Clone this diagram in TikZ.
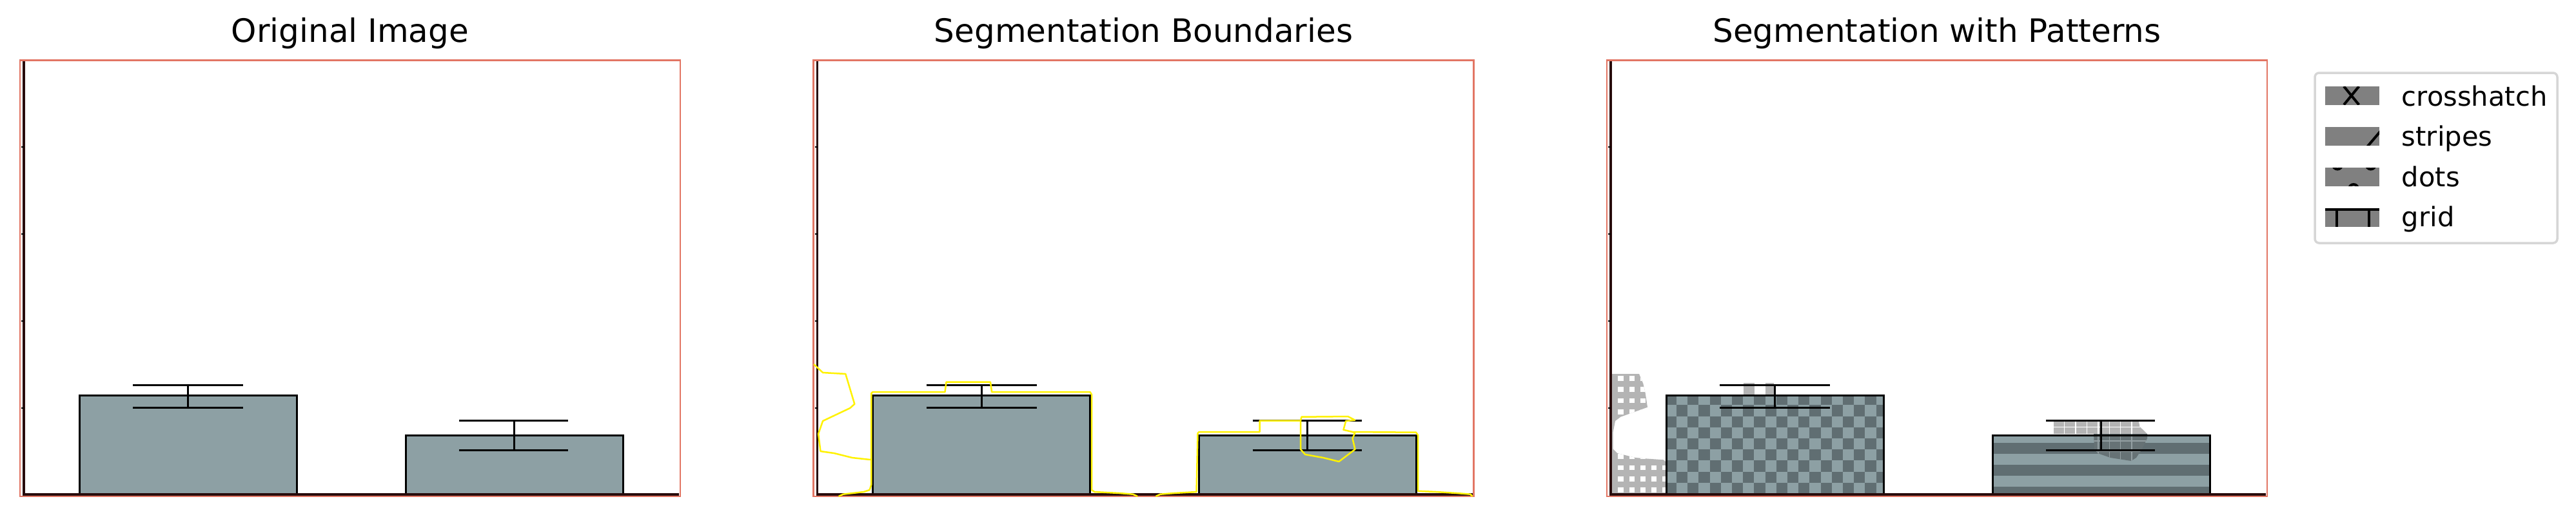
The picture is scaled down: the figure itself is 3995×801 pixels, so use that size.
\documentclass[tikz,border=0pt]{standalone}
\usepackage{fontspec}
\setmainfont{DejaVu Sans}
\definecolor{barfill}{RGB}{141,160,164}
\definecolor{bardark}{RGB}{96,110,114}
\definecolor{framesalmon}{RGB}{226,118,100}
\definecolor{axisdark}{RGB}{40,12,12}
\definecolor{seggray}{RGB}{180,180,180}
\definecolor{segdark}{RGB}{102,114,117}
\definecolor{seglines}{RGB}{148,160,163}
\definecolor{legedge}{RGB}{214,214,214}
\definecolor{handlegray}{RGB}{128,128,128}
\tikzset{
  barbox/.style={draw=black, line width=0.72pt},
  errbar/.style={draw=black, line width=0.72pt},
  framebox/.style={draw=framesalmon, line width=0.6pt},
  axisline/.style={draw=axisdark, line width=0.84pt},
  tickline/.style={draw=black, line width=0.6pt},
  segline/.style={draw=yellow, line width=0.6pt, line join=round},
  titletext/.style={font=\fontsize{12}{14}\selectfont, anchor=base, inner sep=0pt},
  legtext/.style={font=\fontsize{10}{12}\selectfont, anchor=base west, inner sep=0pt},
  hatchline/.style={draw=black, line width=0.96pt},
  legframe/.style={draw=legedge, fill=white, line width=0.84pt, rounded corners=1.6pt},
}
\newcommand{\chartfill}{%
  \fill[barfill] (123,613) rectangle (460,767);
  \fill[barfill] (629,675) rectangle (966,767);
}
\newcommand{\chartlines}{%
  \draw[barbox] (123,767) -- (123,613) -- (460,613) -- (460,767);
  \draw[barbox] (629,767) -- (629,675) -- (966,675) -- (966,767);
  \draw[errbar] (206,597) -- (377,597) (206,632) -- (377,632) (291.5,597) -- (291.5,632);
  \draw[errbar] (712,652) -- (881,652) (712,698) -- (881,698) (797,652) -- (797,698);
  \draw[framebox] (31,93.5) rectangle (1055,770);
  \draw[axisline] (37,95) -- (37,767) -- (1053,767);
  \draw[tickline] (33,228) -- (37,228) (33,363) -- (37,363) (33,498) -- (37,498) (33,633) -- (37,633);
}
\begin{document}
\begin{tikzpicture}[x=0.24pt,y=-0.24pt]
\useasboundingbox (0,0) rectangle (3995,801);
\fill[white] (0,0) rectangle (3995,801);

% ---------- Panel 1 ----------
\node[titletext] (t1) at (543,65) {Original Image};
\begin{scope}
  \chartfill
  \chartlines
\end{scope}

% ---------- Panel 2 ----------
\node[titletext] (t2) at (1773.5,65) {Segmentation Boundaries};
\begin{scope}[shift={(1230.5,0)}]
  \chartfill
  \chartlines
  \draw[segline] (31.6,565) -- (45.6,578) -- (80.8,580) -- (94.8,626.7) -- (87.8,633) -- (45.6,653) -- (38.6,673) -- (42,700) -- (63,703) -- (91,710) -- (116,712.7) -- (120.8,713);
  \draw[segline] (70,770) -- (77,766.7) -- (109,763) -- (118,760) -- (120.8,752) -- (120.8,610) -- (123,608) -- (235,608) -- (237,592.7) -- (305.5,592.7) -- (307.6,608) -- (460,608) -- (462.5,612) -- (462.5,760) -- (467,763) -- (505.6,765) -- (526.7,766.7) -- (533.7,770);
  \draw[segline] (561.8,770) -- (568.8,766.7) -- (590,765) -- (625,763) -- (627,672) -- (629,670) -- (723,670) -- (723,652.7) -- (786.5,652.7) -- (788,646.7) -- (860,646) -- (870.8,651.7) -- (856.7,653) -- (853,666.7) -- (867,670) -- (965.6,670.7) -- (968.5,675) -- (968.5,761.7) -- (997,763) -- (1028.8,765) -- (1050,766.7) -- (1053,770);
  \draw[segline] (786.5,652.7) -- (786.5,697) -- (793.6,705) -- (821.6,710) -- (846,716) -- (871,697) -- (867,680) -- (870.8,671.7) -- (867,670);
\end{scope}

% ---------- Panel 3 ----------
\node[titletext] (t3) at (3004,65) {Segmentation with Patterns};
\begin{scope}[shift={(2461,0)}]
  % left region with grid pattern
  \begin{scope}
    \path[clip] (37,580) -- (81,580) -- (87.3,595) -- (90.7,610) -- (94,631.7) -- (75.7,638.3) -- (52.3,646.7) -- (44,653) -- (40.7,670) -- (40.7,696.7) -- (47,703) -- (62,706.7) -- (75.7,710) -- (95.7,711.7) -- (119,713.3) -- (122,716) -- (122,767) -- (37,767) -- cycle;
    \fill[seggray] (30,570) rectangle (125,770);
    \foreach \i in {0,...,4} {
      \foreach \j in {0,...,10} {
        \fill[white] ({48.35+17.2*\i},{583.15+17.3*\j}) rectangle ++(8.3,7.7);
      }
    }
  \end{scope}
  \chartfill
  % checkerboard on bar 1
  \begin{scope}
    \clip (123,613) rectangle (460,767);
    \foreach \i in {0,...,19} {
      \foreach \j in {0,...,9} {
        \pgfmathtruncatemacro{\cellpar}{mod(\i+\j,2)}
        \ifnum\cellpar=0
          \fill[bardark] ({121.8+17.2*\i},{611.1+17.2*\j}) rectangle ++(17.2,17.2);
        \fi
      }
    }
  \end{scope}
  % stripes on bar 2
  \fill[bardark] (629,686.7) rectangle (966,703.7);
  \fill[bardark] (629,720.7) rectangle (966,737.7);
  \fill[bardark] (629,755) rectangle (966,767);
  % grey patches between caps of bar 1
  \fill[seggray] (243,594) rectangle (259.7,611.7);
  \fill[seggray] (277,594) rectangle (290,611.7);
  % grid region above bar 2
  \begin{scope}
    \path[clip] (724,652) -- (855.7,652) -- (857.3,661.7) -- (869,673) -- (724,673) -- cycle;
    \fill[seggray] (720,645) rectangle (875,675);
    \foreach \k in {0,...,6} {
      \draw[white, line width=0.36pt] ({740.7+17.4*\k},645) -- ({740.7+17.4*\k},675);
    }
    \draw[white, line width=0.36pt] (720,662.5) -- (875,662.5);
  \end{scope}
  % darker grid region inside bar 2
  \begin{scope}
    \path[clip] (786,673) -- (787,696.7) -- (792,703) -- (812,710) -- (844,715) -- (852,710) -- (860.7,696.7) -- (869,680) -- (869,673) -- cycle;
    \fill[segdark] (780,670) rectangle (875,720);
    \foreach \k in {0,...,6} {
      \draw[seglines, line width=0.36pt] ({740.7+17.4*\k},670) -- ({740.7+17.4*\k},720);
    }
    \draw[seglines, line width=0.36pt] (780,684) -- (875,684) (780,700) -- (875,700);
  \end{scope}
  \chartlines
\end{scope}

% ---------- Legend ----------
\draw[legframe] (3590,113) rectangle (3966,377);
% crosshatch
\fill[handlegray] (3606,134) rectangle (3690,162.5);
\begin{scope}
  \clip (3606,134) rectangle (3690,162.5);
  \draw[hatchline] (3635,134) -- (3658.3,162.5) (3635,162.5) -- (3658.3,134);
\end{scope}
\node[legtext] (l1) at (3724,164) {crosshatch};
% stripes
\fill[handlegray] (3606,197) rectangle (3690,225.5);
\begin{scope}
  \clip (3606,197) rectangle (3690,225.5);
  \draw[hatchline] (3671.7,227) -- (3693,202);
\end{scope}
\node[legtext] (l2) at (3724,226.6) {stripes};
% dots
\fill[handlegray] (3606,260) rectangle (3690,288.5);
\begin{scope}
  \clip (3606,260) rectangle (3690,288.5);
  \draw[hatchline] (3625,255.5) circle[radius=1.68pt];
  \draw[hatchline] (3676.7,255.5) circle[radius=1.68pt];
  \draw[hatchline] (3650,293) circle[radius=1.68pt];
\end{scope}
\node[legtext] (l3) at (3724,289.2) {dots};
% grid
\fill[handlegray] (3606,323) rectangle (3690,351.5);
\begin{scope}
  \clip (3606,323) rectangle (3690,351.5);
  \draw[hatchline] (3606,325) -- (3690,325);
  \draw[hatchline] (3624,323) -- (3624,351.5) (3674,323) -- (3674,351.5);
\end{scope}
\node[legtext] (l4) at (3724,351.8) {grid};
\end{tikzpicture}
\end{document}
